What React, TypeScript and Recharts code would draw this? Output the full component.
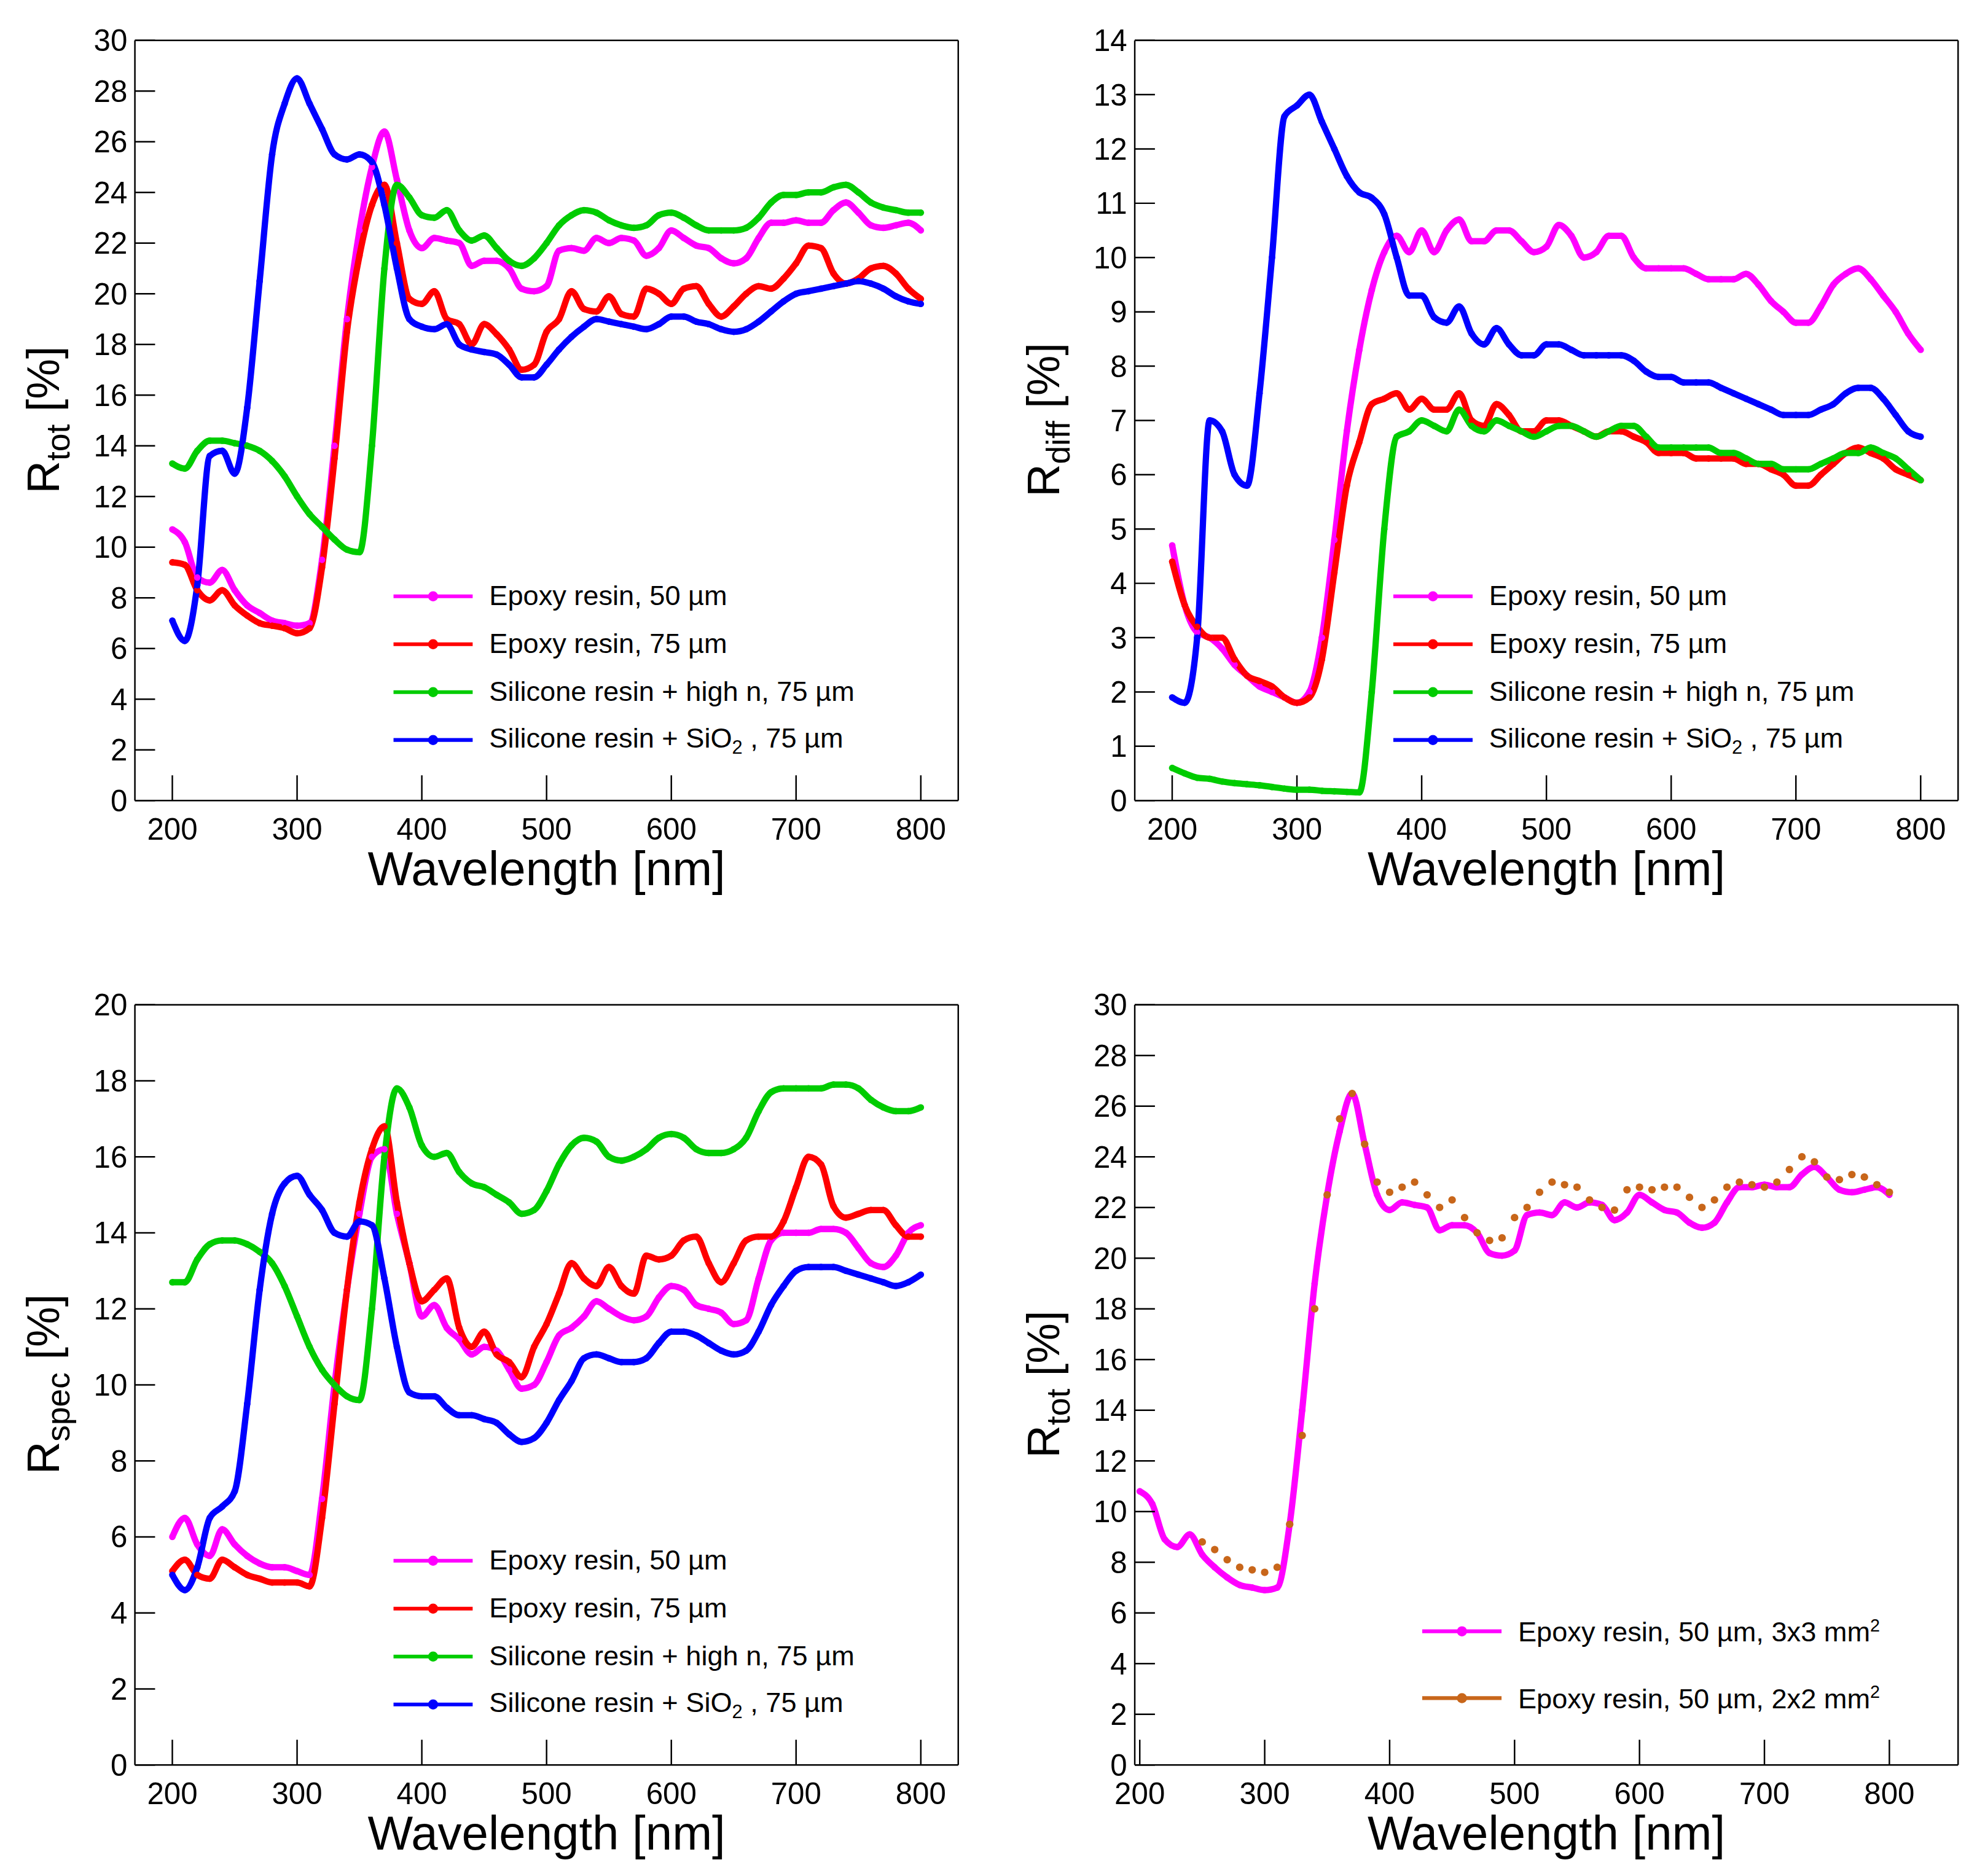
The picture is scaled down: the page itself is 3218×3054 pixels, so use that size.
import React from "react";
import { Line, LineChart, XAxis, YAxis } from "recharts";

const WAVELENGTH = [
  200, 210, 220, 230, 240, 250, 260, 270, 280, 290, 300, 310, 320, 330, 340, 350, 360, 370, 380, 390,
  400, 410, 420, 430, 440, 450, 460, 470, 480, 490, 500, 510, 520, 530, 540, 550, 560, 570, 580, 590,
  600, 610, 620, 630, 640, 650, 660, 670, 680, 690, 700, 710, 720, 730, 740, 750, 760, 770, 780, 790, 800,
];

// R_tot
const totEpoxy50 = [10.7, 10.2, 8.8, 8.6, 9.1, 8.3, 7.7, 7.4, 7.1, 7.0, 6.9, 7.0, 9.5, 14, 19, 22.5, 25, 26.4, 24.5, 22.5, 21.8, 22.2, 22.1, 22.0, 21.1, 21.3, 21.3, 21.0, 20.2, 20.1, 20.3, 21.7, 21.8, 21.7, 22.2, 22.0, 22.2, 22.1, 21.5, 21.8, 22.5, 22.2, 21.9, 21.8, 21.4, 21.2, 21.4, 22.2, 22.8, 22.8, 22.9, 22.8, 22.8, 23.3, 23.6, 23.2, 22.7, 22.6, 22.7, 22.8, 22.5];
const totEpoxy75 = [9.4, 9.3, 8.3, 7.9, 8.3, 7.7, 7.3, 7.0, 6.9, 6.8, 6.6, 6.8, 9.2, 13.5, 18.5, 21.5, 23.5, 24.3, 22, 19.8, 19.6, 20.1, 19.0, 18.8, 18.0, 18.8, 18.4, 17.8, 17.0, 17.2, 18.5, 19.0, 20.1, 19.4, 19.3, 19.9, 19.2, 19.1, 20.2, 20.0, 19.6, 20.2, 20.3, 19.6, 19.1, 19.5, 20.0, 20.3, 20.2, 20.6, 21.2, 21.9, 21.8, 20.8, 20.4, 20.6, 21.0, 21.1, 20.8, 20.2, 19.8];
const totSiliconeHighN = [13.3, 13.1, 13.8, 14.2, 14.2, 14.1, 14.0, 13.8, 13.4, 12.8, 12.0, 11.3, 10.8, 10.3, 9.9, 9.8, 14, 21, 24.3, 23.8, 23.1, 23.0, 23.3, 22.5, 22.1, 22.3, 21.8, 21.3, 21.1, 21.4, 22.0, 22.7, 23.1, 23.3, 23.2, 22.9, 22.7, 22.6, 22.7, 23.1, 23.2, 23.0, 22.7, 22.5, 22.5, 22.5, 22.6, 23.0, 23.6, 23.9, 23.9, 24.0, 24.0, 24.2, 24.3, 24.0, 23.6, 23.4, 23.3, 23.2, 23.2];
const totSiliconeSiO2 = [7.1, 6.3, 8.5, 13.6, 13.8, 12.9, 15.5, 20.5, 25.5, 27.5, 28.5, 27.5, 26.5, 25.5, 25.3, 25.5, 25.2, 23.5, 21, 19, 18.7, 18.6, 18.8, 18.0, 17.8, 17.7, 17.6, 17.2, 16.7, 16.7, 17.2, 17.8, 18.3, 18.7, 19.0, 18.9, 18.8, 18.7, 18.6, 18.8, 19.1, 19.1, 18.9, 18.8, 18.6, 18.5, 18.6, 18.9, 19.3, 19.7, 20.0, 20.1, 20.2, 20.3, 20.4, 20.5, 20.4, 20.2, 19.9, 19.7, 19.6];

// R_diff
const diffEpoxy50 = [4.7, 3.6, 3.1, 3.0, 2.8, 2.5, 2.3, 2.1, 2.0, 1.9, 1.8, 2.0, 3.0, 4.8, 6.8, 8.3, 9.4, 10.1, 10.4, 10.1, 10.5, 10.1, 10.5, 10.7, 10.3, 10.3, 10.5, 10.5, 10.3, 10.1, 10.2, 10.6, 10.4, 10.0, 10.1, 10.4, 10.4, 10.0, 9.8, 9.8, 9.8, 9.8, 9.7, 9.6, 9.6, 9.6, 9.7, 9.5, 9.2, 9.0, 8.8, 8.8, 9.1, 9.5, 9.7, 9.8, 9.6, 9.3, 9.0, 8.6, 8.3];
const diffEpoxy75 = [4.4, 3.6, 3.2, 3.0, 3.0, 2.6, 2.3, 2.2, 2.1, 1.9, 1.8, 1.9, 2.6, 4.2, 5.8, 6.6, 7.3, 7.4, 7.5, 7.2, 7.4, 7.2, 7.2, 7.5, 7.0, 6.9, 7.3, 7.1, 6.8, 6.8, 7.0, 7.0, 6.9, 6.8, 6.7, 6.8, 6.8, 6.7, 6.6, 6.4, 6.4, 6.4, 6.3, 6.3, 6.3, 6.3, 6.2, 6.2, 6.1, 6.0, 5.8, 5.8, 6.0, 6.2, 6.4, 6.5, 6.4, 6.3, 6.1, 6.0, 5.9];
const diffSiliconeHighN = [0.6, 0.5, 0.42, 0.4, 0.35, 0.32, 0.3, 0.28, 0.25, 0.22, 0.2, 0.2, 0.18, 0.17, 0.16, 0.15, 2.0, 5.0, 6.7, 6.8, 7.0, 6.9, 6.8, 7.2, 6.9, 6.8, 7.0, 6.9, 6.8, 6.7, 6.8, 6.9, 6.9, 6.8, 6.7, 6.8, 6.9, 6.9, 6.7, 6.5, 6.5, 6.5, 6.5, 6.5, 6.4, 6.4, 6.3, 6.2, 6.2, 6.1, 6.1, 6.1, 6.2, 6.3, 6.4, 6.4, 6.5, 6.4, 6.3, 6.1, 5.9];
const diffSiliconeSiO2 = [1.9, 1.8, 3.0, 7.0, 6.8, 6.0, 5.8, 7.5, 10, 12.6, 12.8, 13.0, 12.5, 12.0, 11.5, 11.2, 11.1, 10.8, 10.0, 9.3, 9.3, 8.9, 8.8, 9.1, 8.6, 8.4, 8.7, 8.4, 8.2, 8.2, 8.4, 8.4, 8.3, 8.2, 8.2, 8.2, 8.2, 8.1, 7.9, 7.8, 7.8, 7.7, 7.7, 7.7, 7.6, 7.5, 7.4, 7.3, 7.2, 7.1, 7.1, 7.1, 7.2, 7.3, 7.5, 7.6, 7.6, 7.4, 7.1, 6.8, 6.7];

// R_spec
const specEpoxy50 = [6.0, 6.5, 5.8, 5.5, 6.2, 5.8, 5.5, 5.3, 5.2, 5.2, 5.1, 5.0, 7.0, 10, 12.5, 14.5, 16.0, 16.2, 14.5, 13.2, 11.8, 12.1, 11.5, 11.2, 10.8, 11.0, 10.9, 10.4, 9.9, 10.0, 10.6, 11.3, 11.5, 11.8, 12.2, 12.0, 11.8, 11.7, 11.8, 12.3, 12.6, 12.5, 12.1, 12.0, 11.9, 11.6, 11.7, 12.8, 13.8, 14.0, 14.0, 14.0, 14.1, 14.1, 14.0, 13.6, 13.2, 13.1, 13.4, 14.0, 14.2];
const specEpoxy75 = [5.1, 5.4, 5.0, 4.9, 5.4, 5.2, 5.0, 4.9, 4.8, 4.8, 4.8, 4.7, 6.5, 9.5, 12.5, 14.8, 16.2, 16.8, 14.8, 13.2, 12.2, 12.5, 12.8, 11.5, 11.0, 11.4, 10.8, 10.6, 10.2, 11.0, 11.6, 12.4, 13.2, 12.8, 12.6, 13.1, 12.6, 12.4, 13.4, 13.3, 13.4, 13.8, 13.9, 13.2, 12.7, 13.2, 13.8, 13.9, 13.9, 14.3, 15.2, 16.0, 15.8, 14.7, 14.4, 14.5, 14.6, 14.6, 14.2, 13.9, 13.9];
const specSiliconeHighN = [12.7, 12.7, 13.3, 13.7, 13.8, 13.8, 13.7, 13.5, 13.2, 12.6, 11.8, 11.0, 10.4, 10.0, 9.7, 9.6, 12, 16, 17.8, 17.3, 16.3, 16.0, 16.1, 15.6, 15.3, 15.2, 15.0, 14.8, 14.5, 14.6, 15.1, 15.8, 16.3, 16.5, 16.4, 16.0, 15.9, 16.0, 16.2, 16.5, 16.6, 16.5, 16.2, 16.1, 16.1, 16.2, 16.5, 17.2, 17.7, 17.8, 17.8, 17.8, 17.8, 17.9, 17.9, 17.8, 17.5, 17.3, 17.2, 17.2, 17.3];
const specSiliconeSiO2 = [5.0, 4.6, 5.2, 6.5, 6.8, 7.2, 9.5, 12.5, 14.5, 15.3, 15.5, 15.0, 14.6, 14.0, 13.9, 14.3, 14.2, 12.8, 11.0, 9.8, 9.7, 9.7, 9.4, 9.2, 9.2, 9.1, 9.0, 8.7, 8.5, 8.6, 9.0, 9.6, 10.1, 10.7, 10.8, 10.7, 10.6, 10.6, 10.7, 11.1, 11.4, 11.4, 11.3, 11.1, 10.9, 10.8, 10.9, 11.4, 12.1, 12.6, 13.0, 13.1, 13.1, 13.1, 13.0, 12.9, 12.8, 12.7, 12.6, 12.7, 12.9];

// R_tot, sample size comparison
const sizeEpoxy3x3 = [10.8, 10.3, 8.9, 8.6, 9.1, 8.3, 7.8, 7.4, 7.1, 7.0, 6.9, 7.0, 9.5, 14, 19, 22.5, 25, 26.5, 24.5, 22.5, 21.9, 22.2, 22.1, 22.0, 21.1, 21.3, 21.3, 21.0, 20.2, 20.1, 20.3, 21.7, 21.8, 21.7, 22.2, 22.0, 22.2, 22.1, 21.5, 21.8, 22.5, 22.2, 21.9, 21.8, 21.4, 21.2, 21.4, 22.2, 22.8, 22.8, 22.9, 22.8, 22.8, 23.3, 23.6, 23.2, 22.7, 22.6, 22.7, 22.8, 22.5];
const sizeEpoxy2x2 = [null, null, null, null, null, 8.8, 8.5, 8.1, 7.8, 7.7, 7.6, 7.8, 9.5, 13, 18, 22.5, 25.5, 26.5, 24.5, 23, 22.6, 22.8, 23.0, 22.5, 22.0, 22.3, 21.6, 21.0, 20.7, 20.8, 21.6, 22.0, 22.6, 23.0, 22.9, 22.8, 22.3, 22.0, 21.9, 22.7, 22.8, 22.7, 22.8, 22.8, 22.4, 22.0, 22.3, 22.8, 23.0, 22.9, 22.8, 23.0, 23.5, 24.0, 23.8, 23.2, 23.1, 23.3, 23.2, 22.9, 22.6];

const MAGENTA = "#ff00ff";
const RED = "#ff0000";
const GREEN = "#00cc00";
const BLUE = "#0000ff";
const BROWN = "#c8661a";

const FONT = "'Liberation Sans', Arial, sans-serif";
const S = 3218 / 1568;
const W = 784;
const H = 745;

type Series = { name: React.ReactNode; values: (number | null)[]; color: string; line: boolean };

function range(a: number, b: number, step: number) {
  const out: number[] = [];
  for (let v = a; v <= b + 1e-9; v += step) out.push(Math.round(v * 100) / 100);
  return out;
}

function Panel({
  x0, y0, xDomain, yMax, yStep, yMinor, ylabel, series, legendX, legendTop, legendGap,
}: {
  x0: number; y0: number; xDomain: [number, number]; yMax: number; yStep: number; yMinor: number;
  ylabel: React.ReactNode; series: Series[]; legendX: number; legendTop: number; legendGap: number;
}) {
  const data = WAVELENGTH.map((w, i) => {
    const row: Record<string, number | null> = { w };
    series.forEach((s, k) => (row["s" + k] = s.values[i]));
    return row;
  });
  const xMajor = range(200, 800, 100);
  const xMinor = range(Math.ceil(xDomain[0] / 20) * 20, xDomain[1], 20);
  const yMajor = range(0, yMax, yStep);
  const yMin = range(0, yMax, yMinor);
  const tickStyle = { fontSize: 24, fill: "#000", fontFamily: FONT };
  const ax = { stroke: "#000", strokeWidth: 1.2 };
  return (
    <div style={{ position: "absolute", left: x0, top: y0, width: W, height: H }}>
      <LineChart width={W} height={H} data={data} margin={{ left: 105, top: 30, right: 22, bottom: 108 }}>
        <XAxis xAxisId="b" dataKey="w" type="number" domain={xDomain} ticks={xMajor} height={1} allowDataOverflow
          tickSize={-20} tickMargin={34} {...ax} tick={tickStyle} interval={0} />
        <XAxis xAxisId="bm" dataKey="w" type="number" domain={xDomain} ticks={xMinor} height={1} allowDataOverflow
          tickSize={-10} tick={false} axisLine={false} {...ax} interval={0} />
        <XAxis xAxisId="t" orientation="top" dataKey="w" type="number" domain={xDomain} ticks={xMajor} height={1} allowDataOverflow
          tickSize={-20} tick={false} {...ax} interval={0} />
        <XAxis xAxisId="tm" orientation="top" dataKey="w" type="number" domain={xDomain} ticks={xMinor} height={1} allowDataOverflow
          tickSize={-10} tick={false} axisLine={false} {...ax} interval={0} />
        <YAxis yAxisId="l" type="number" domain={[0, yMax]} ticks={yMajor} width={1} allowDataOverflow
          tickSize={-16} tickMargin={22} {...ax} tick={tickStyle} interval={0} />
        <YAxis yAxisId="lm" type="number" domain={[0, yMax]} ticks={yMin} width={1} interval={0} allowDataOverflow
          tickSize={-8} tick={false} axisLine={false} {...ax} />
        <YAxis yAxisId="r" orientation="right" type="number" domain={[0, yMax]} ticks={yMajor} width={1} interval={0} allowDataOverflow
          tickSize={-16} tick={false} {...ax} />
        <YAxis yAxisId="rm" orientation="right" type="number" domain={[0, yMax]} ticks={yMin} width={1} interval={0} allowDataOverflow
          tickSize={-8} tick={false} axisLine={false} {...ax} />
        {series.map((s, k) => (
          <Line key={k} xAxisId="b" yAxisId="l" dataKey={"s" + k} type="monotone" isAnimationActive={false}
            stroke={s.line ? s.color : "none"} strokeWidth={5} connectNulls={false}
            dot={{ r: s.line ? 2.6 : 3, fill: s.color, stroke: "none" }} activeDot={false} />
        ))}
      </LineChart>
      <div style={{ position: "absolute", left: 8, top: 333, transform: "translate(-50%,-50%) rotate(-90deg)", transformOrigin: "center",
        marginLeft: 30, fontFamily: FONT, fontSize: 36, whiteSpace: "nowrap" }}>{ylabel}</div>
      <div style={{ position: "absolute", left: 105, width: 657, top: 668, textAlign: "center", fontFamily: FONT, fontSize: 38 }}>
        Wavelength [nm]
      </div>
      {series.map((s, k) => (
        <div key={k} style={{ position: "absolute", left: legendX, top: legendTop + k * legendGap - 16, height: 32,
          display: "flex", alignItems: "center", fontFamily: FONT, fontSize: 22, whiteSpace: "nowrap" }}>
          <svg width={63} height={32} style={{ marginRight: 13 }}>
            <line x1={0} x2={63} y1={16} y2={16} stroke={s.color} strokeWidth={3} />
            <circle cx={31.5} cy={16} r={4} fill={s.color} />
          </svg>
          <span>{s.name}</span>
        </div>
      ))}
    </div>
  );
}

const um = "\u00b5m";
const fourSeries = (a: number[], b: number[], c: number[], d: number[]): Series[] => [
  { name: `Epoxy resin, 50 ${um}`, values: a, color: MAGENTA, line: true },
  { name: `Epoxy resin, 75 ${um}`, values: b, color: RED, line: true },
  { name: `Silicone resin + high n, 75 ${um}`, values: c, color: GREEN, line: true },
  { name: <>Silicone resin + SiO<sub style={{ fontSize: 15, verticalAlign: -5 }}>2</sub>{" , 75 " + um}</>, values: d, color: BLUE, line: true },
];

export default function App() {
  return (
    <div style={{ position: "fixed", left: 0, top: 0, width: 3218, height: 3054, background: "#fff", overflow: "hidden" }}>
      <div style={{ position: "absolute", left: 0, top: 0, width: 1568, height: 1490, transform: `scale(${S})`, transformOrigin: "0 0" }}>
        <Panel x0={0} y0={0} xDomain={[170, 830]} yMax={30} yStep={2} yMinor={0.5}
          ylabel={<>R<sub style={{ fontSize: 26 }}>tot</sub> [%]</>}
          series={fourSeries(totEpoxy50, totEpoxy75, totSiliconeHighN, totSiliconeSiO2)}
          legendX={312} legendTop={473} legendGap={38} />
        <Panel x0={793} y0={0} xDomain={[170, 830]} yMax={14} yStep={1} yMinor={0.2}
          ylabel={<>R<sub style={{ fontSize: 26 }}>diff</sub> [%]</>}
          series={fourSeries(diffEpoxy50, diffEpoxy75, diffSiliconeHighN, diffSiliconeSiO2)}
          legendX={312} legendTop={473} legendGap={38} />
        <Panel x0={0} y0={765} xDomain={[170, 830]} yMax={20} yStep={2} yMinor={0.5}
          ylabel={<>R<sub style={{ fontSize: 26 }}>spec</sub> [%]</>}
          series={fourSeries(specEpoxy50, specEpoxy75, specSiliconeHighN, specSiliconeSiO2)}
          legendX={312} legendTop={473} legendGap={38} />
        <Panel x0={793} y0={765} xDomain={[196, 855]} yMax={30} yStep={2} yMinor={0.5}
          ylabel={<>R<sub style={{ fontSize: 26 }}>tot</sub> [%]</>}
          series={[
            { name: <>Epoxy resin, 50 {um}, 3x3 mm<sup style={{ fontSize: 14, verticalAlign: 8 }}>2</sup></>, values: sizeEpoxy3x3, color: MAGENTA, line: true },
            { name: <>Epoxy resin, 50 {um}, 2x2 mm<sup style={{ fontSize: 14, verticalAlign: 8 }}>2</sup></>, values: sizeEpoxy2x2, color: BROWN, line: false },
          ]}
          legendX={335} legendTop={529} legendGap={53} />
      </div>
    </div>
  );
}
